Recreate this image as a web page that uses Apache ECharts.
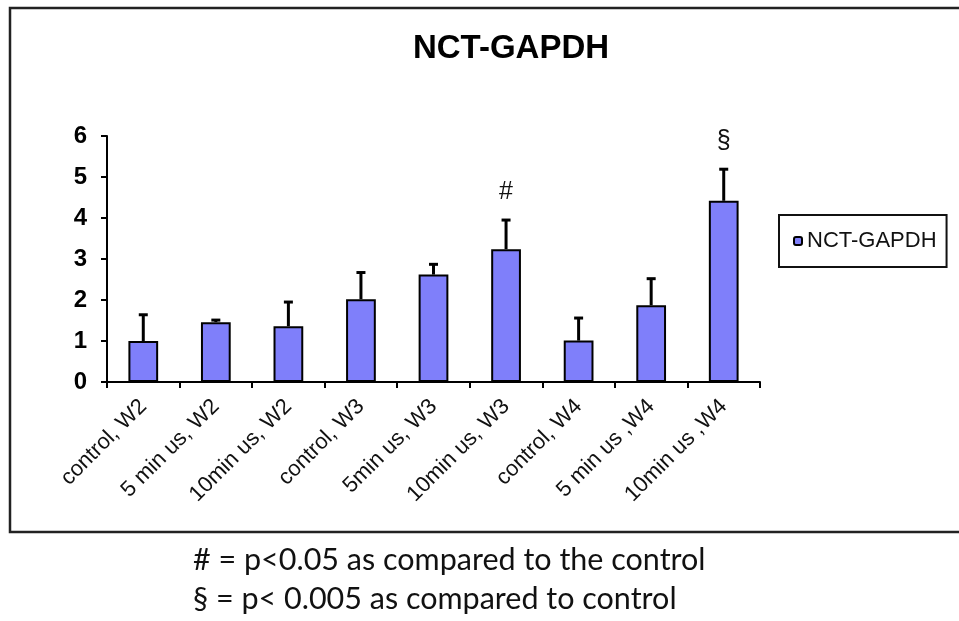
<!DOCTYPE html>
<html>
<head>
<meta charset="utf-8">
<script src="https://cdn.jsdelivr.net/npm/echarts@6/dist/echarts.min.js"></script>
<style>html,body{margin:0;padding:0;background:#fff}#chart{width:959px;height:621px}</style>
</head>
<body>
<div id="chart"></div>
<script>
const categories = ['control, W2', '5 min us, W2', '10min us, W2', 'control, W3', '5min us, W3', '10min us, W3', 'control, W4', '5 min us ,W4', '10min us ,W4'];
const means = [1.0, 1.46, 1.36, 2.02, 2.62, 3.24, 1.01, 1.87, 4.42];
const errors = [0.64, 0.05, 0.59, 0.65, 0.25, 0.71, 0.55, 0.65, 0.77];
const markers = ['', '', '', '', '', '#', '', '', '§'];
const yTicks = [0, 1, 2, 3, 4, 5, 6];
const titleText = 'NCT-GAPDH';
const seriesName = 'NCT-GAPDH';
const footnotes = ['# = p<0.05 as compared to the control', '§ = p< 0.005 as compared to control'];

const chart = echarts.init(document.getElementById('chart'), null, {renderer: 'canvas'});
const barColor = '#7f7ffa';

const option = {
  backgroundColor: '#fff',
  animation: false,
  title: {
    text: titleText,
    left: 506, top: 27, textAlign: 'center',
    textStyle: {fontFamily: 'Liberation Sans', fontWeight: 'bold', fontSize: 33, color: '#000'}
  },
  legend: {
    data: [seriesName],
    left: 779, top: 215,
    orient: 'vertical',
    borderColor: '#111', borderWidth: 2,
    padding: [15, 10, 15, 14],
    itemWidth: 8, itemHeight: 8,
    textStyle: {fontFamily: 'Liberation Sans', fontSize: 22, color: '#111'}
  },
  grid: {left: 107, right: 199, top: 136, bottom: 239, containLabel: false},
  xAxis: {
    type: 'category',
    data: categories,
    axisLine: {lineStyle: {color: '#000', width: 2}},
    axisTick: {show: true, length: 6, lineStyle: {color: '#000', width: 2}},
    axisLabel: {rotate: 45, margin: 21, interval: 0, fontFamily: 'Liberation Sans', fontSize: 22, color: '#111'}
  },
  yAxis: {
    type: 'value', min: 0, max: 6, interval: 1,
    axisLine: {show: true, lineStyle: {color: '#000', width: 2}},
    axisTick: {show: true, length: 6, lineStyle: {color: '#000', width: 2}},
    splitLine: {show: false},
    axisLabel: {show: true, margin: 20, color: '#000', fontSize: 24, fontWeight: 'bold', fontFamily: 'Liberation Sans',
      formatter: function (v) { return yTicks.indexOf(v) >= 0 ? String(v) : ''; }}
  },
  series: [
    {
      name: seriesName,
      type: 'bar',
      data: means,
      barWidth: '41%',
      itemStyle: {color: barColor, borderColor: '#000', borderWidth: 2},
      z: 2
    },
    {
      type: 'custom',
      data: means.map((m, i) => [i, m, errors[i]]),
      z: 3,
      renderItem: function (params, api) {
        const i = api.value(0), m = api.value(1), e = api.value(2);
        const base = api.coord([i, m]);
        const tip = api.coord([i, m + e]);
        const children = [
          {type: 'line', shape: {x1: base[0], y1: base[1], x2: tip[0], y2: tip[1]}, style: {stroke: '#000', lineWidth: 3}},
          {type: 'line', shape: {x1: tip[0] - 4.5, y1: tip[1], x2: tip[0] + 4.5, y2: tip[1]}, style: {stroke: '#000', lineWidth: 3}}
        ];
        const mk = markers[params.dataIndex];
        if (mk) {
          children.push({type: 'text', x: tip[0], y: tip[1] - 28, style: {text: mk, fill: '#111', font: '25px Liberation Sans', align: 'center', verticalAlign: 'middle'}});
        }
        return {type: 'group', children: children};
      }
    }
  ],
  graphic: [
    {type: 'rect', shape: {x: 10, y: 8, width: 970, height: 524}, style: {fill: 'none', stroke: '#222', lineWidth: 2.5}, silent: true},
    {type: 'text', left: 193, top: 545, style: {text: footnotes[0], font: '30.5px Lato', fill: '#111'}},
    {type: 'text', left: 193, top: 584, style: {text: footnotes[1], font: '30.5px Lato', fill: '#111'}}
  ]
};
chart.setOption(option);
</script>
</body>
</html>
